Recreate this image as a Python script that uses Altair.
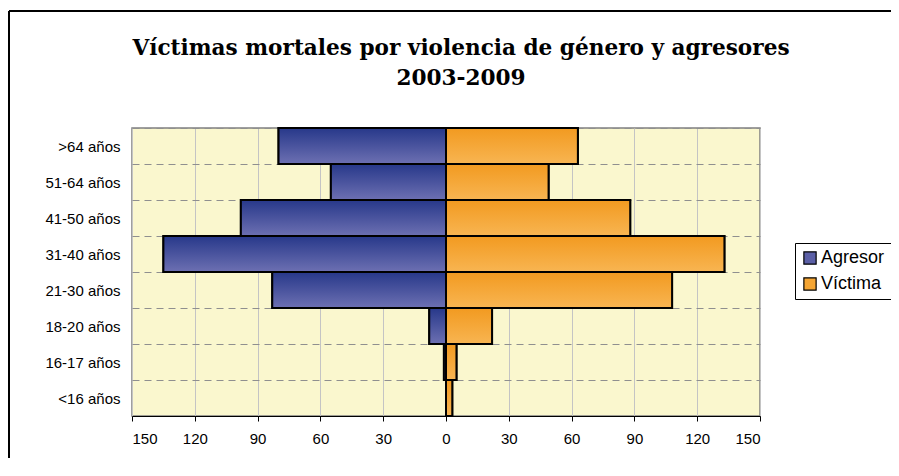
import altair as alt
import pandas as pd

categorias = [">64 años", "51-64 años", "41-50 años", "31-40 años",
              "21-30 años", "18-20 años", "16-17 años", "<16 años"]
agresor = [80, 55, 98, 135, 83, 8, 1, 0]
victima = [63, 49, 88, 133, 108, 22, 5, 3]
series = ["Agresor", "Víctima"]
ticks_x = [-150, -120, -90, -60, -30, 0, 30, 60, 90, 120, 150]

rows = []
for c, a, v in zip(categorias, agresor, victima):
    rows.append({"edad": c, "serie": series[0], "valor": -a})
    rows.append({"edad": c, "serie": series[1], "valor": v})
df = pd.DataFrame(rows)

blue_grad = alt.Gradient(gradient="linear", x1=0, y1=0, x2=0, y2=1,
                         stops=[alt.GradientStop(offset=0, color="#27388a"),
                                alt.GradientStop(offset=1, color="#6d70b2")])
orange_grad = alt.Gradient(gradient="linear", x1=0, y1=0, x2=0, y2=1,
                           stops=[alt.GradientStop(offset=0, color="#f29a20"),
                                  alt.GradientStop(offset=1, color="#f8b552")])

x_enc = alt.X("valor:Q",
              scale=alt.Scale(domain=[-150, 150], nice=False, zero=False),
              axis=alt.Axis(values=ticks_x, labelExpr="abs(datum.value)", title=None,
                            grid=True, gridColor="#c4c4c4", gridWidth=1,
                            tickColor="black", tickSize=5, domainColor="black",
                            domainWidth=1, labelPadding=10, labelFontSize=15,
                            labelFont="Liberation Sans", labelColor="black"))
y_enc = alt.Y("edad:N", sort=categorias,
              scale=alt.Scale(paddingInner=0, paddingOuter=0),
              axis=alt.Axis(title=None, tickBand="extent", grid=True, gridDash=[7, 5],
                            gridColor="#8f8f8f", gridWidth=1, ticks=False, domain=False,
                            labelPadding=12, labelFontSize=15,
                            labelFont="Liberation Sans", labelColor="black"))

base = alt.Chart(df)

legend_layer = base.mark_bar(stroke="black", strokeWidth=2).encode(
    x=x_enc, y=y_enc,
    color=alt.Color("serie:N",
                    scale=alt.Scale(domain=series, range=["#5b5fa6", "#f5a533"]),
                    legend=alt.Legend(title=None, orient="none", legendX=663, legendY=115,
                                      symbolType="square", symbolSize=150,
                                      symbolStrokeColor="black", symbolStrokeWidth=1.2,
                                      labelFontSize=18, labelFont="Liberation Sans",
                                      labelColor="black", strokeColor="black",
                                      fillColor="white", padding=6, rowPadding=8,
                                      labelOffset=2, symbolOffset=0))
)

agr_layer = base.transform_filter(alt.datum.serie == series[0]).mark_bar(
    fill=blue_grad, stroke="black", strokeWidth=2).encode(x=x_enc, y=y_enc)
vic_layer = base.transform_filter(alt.datum.serie == series[1]).mark_bar(
    fill=orange_grad, stroke="black", strokeWidth=2).encode(x=x_enc, y=y_enc)

frame_data = alt.Data(values=[{"k": 1}])
frame_left = alt.Chart(frame_data).mark_rule(color="black", strokeWidth=2, clip=False).encode(
    x=alt.value(-123), y=alt.value(-117), y2=alt.value(400))
frame_top = alt.Chart(frame_data).mark_rule(color="black", strokeWidth=2, clip=False).encode(
    x=alt.value(-123), x2=alt.value(800), y=alt.value(-117))

chart = alt.layer(legend_layer, agr_layer, vic_layer, frame_left, frame_top).properties(
    width=628, height=288,
    autosize=alt.AutoSizeParams(type="none"),
    padding={"left": 124, "top": 120, "right": 131, "bottom": 42},
    title=alt.TitleParams(
        text=["Víctimas mortales por violencia de género y agresores", "2003-2009"],
        font="DejaVu Serif", fontSize=21.6, fontWeight="bold", color="black",
        anchor="middle", frame="group", lineHeight=30, offset=-80, dx=15),
).configure_view(stroke="#808080", strokeWidth=1.5, fill="#FAF7CE")

chart.save("out.html", embed_options={"renderer": "svg", "actions": False})
